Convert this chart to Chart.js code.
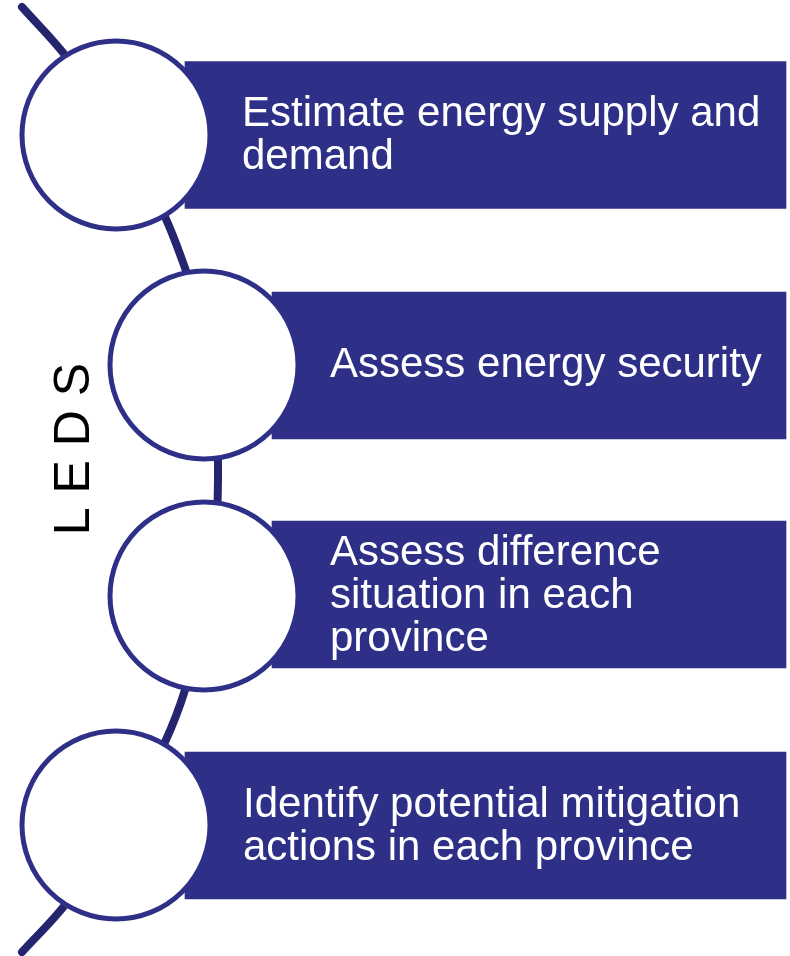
<!DOCTYPE html>
<html>
<head>
<meta charset="utf-8">
<script src="https://cdn.jsdelivr.net/npm/chart.js@4.4.1/dist/chart.umd.min.js"></script>
<style>
  html, body { margin: 0; padding: 0; background: #fff; }
  canvas { display: block; }
</style>
</head>
<body>
<canvas id="leds" width="790" height="956"></canvas>
<script>
// steps of the LEDS process (canvas units)
const stepLines = [
    ['Estimate energy supply and', 'demand'],
    ['Assess energy security'],
    ['Assess difference', 'situation in each', 'province'],
    ['Identify potential mitigation', 'actions in each province']
];
const stepRowY = [135, 365.5, 594.5, 825.5];
const stepBarStart = [185, 272, 272, 185];
const stepBarEnd = [786, 786, 786, 786];
const circleX = [116, 204, 204, 116];
const circleY = [135, 365, 596, 825];
const textX = [242, 330, 330, 243];
const textFirstBaseline = [126, 377, 565, 817];
const spineX = [22, 65, 112, 150, 185, 205, 216, 218, 215, 203, 185, 165, 120, 65, 22];
const spineY = [7, 55, 120, 185, 268, 340, 420, 480, 540, 620, 690, 742, 830, 905, 952];
const sideTitle = 'L E D S';

const navy = '#2e3087';
const spineNavy = '#25246f';

const textPlugin = {
    id: 'stepText',
    afterDatasetsDraw(chart) {
        const ctx = chart.ctx;
        const xs = chart.scales.x;
        const ys = chart.scales.y;
        ctx.save();
        ctx.fillStyle = '#ffffff';
        ctx.font = '42px "Liberation Sans", Arial, sans-serif';
        ctx.textBaseline = 'alphabetic';
        ctx.textAlign = 'left';
        stepLines.forEach((lines, i) => {
            lines.forEach((line, j) => {
                ctx.fillText(line, xs.getPixelForValue(textX[i]), ys.getPixelForValue(textFirstBaseline[i] + j * 43));
            });
        });
        // rotated side title
        ctx.fillStyle = '#000000';
        ctx.font = '50px "Liberation Sans", Arial, sans-serif';
        ctx.textAlign = 'center';
        ctx.textBaseline = 'middle';
        ctx.translate(xs.getPixelForValue(75), ys.getPixelForValue(449));
        ctx.rotate(-Math.PI / 2);
        ctx.fillText(sideTitle, 0, 0);
        ctx.restore();
    }
};

new Chart(document.getElementById('leds'), {
    type: 'scatter',
    data: {
        datasets: [
            {
                type: 'line',
                data: spineX.map((x, i) => ({ x, y: spineY[i] })),
                borderColor: spineNavy,
                borderWidth: 8,
                borderCapStyle: 'round',
                tension: 0.4,
                pointRadius: 0,
                fill: false,
                clip: false,
                order: 3
            },
            {
                type: 'bar',
                indexAxis: 'y',
                data: stepRowY.map((y, i) => ({ y, x: [stepBarStart[i], stepBarEnd[i]] })),
                backgroundColor: navy,
                borderWidth: 0,
                barThickness: 147,
                order: 2
            },
            {
                type: 'scatter',
                data: circleX.map((x, i) => ({ x, y: circleY[i] })),
                pointRadius: 94,
                pointBorderWidth: 5,
                pointBorderColor: navy,
                pointBackgroundColor: '#ffffff',
                clip: false,
                order: 1
            }
        ]
    },
    options: {
        responsive: false,
        animation: false,
        events: [],
        layout: { padding: 0, autoPadding: false },
        plugins: {
            legend: { display: false },
            tooltip: { enabled: false }
        },
        scales: {
            x: { type: 'linear', min: 0, max: 790, offset: false, display: false },
            y: { type: 'linear', min: 0, max: 956, reverse: true, offset: false, display: false }
        }
    },
    plugins: [textPlugin]
});
</script>
</body>
</html>
